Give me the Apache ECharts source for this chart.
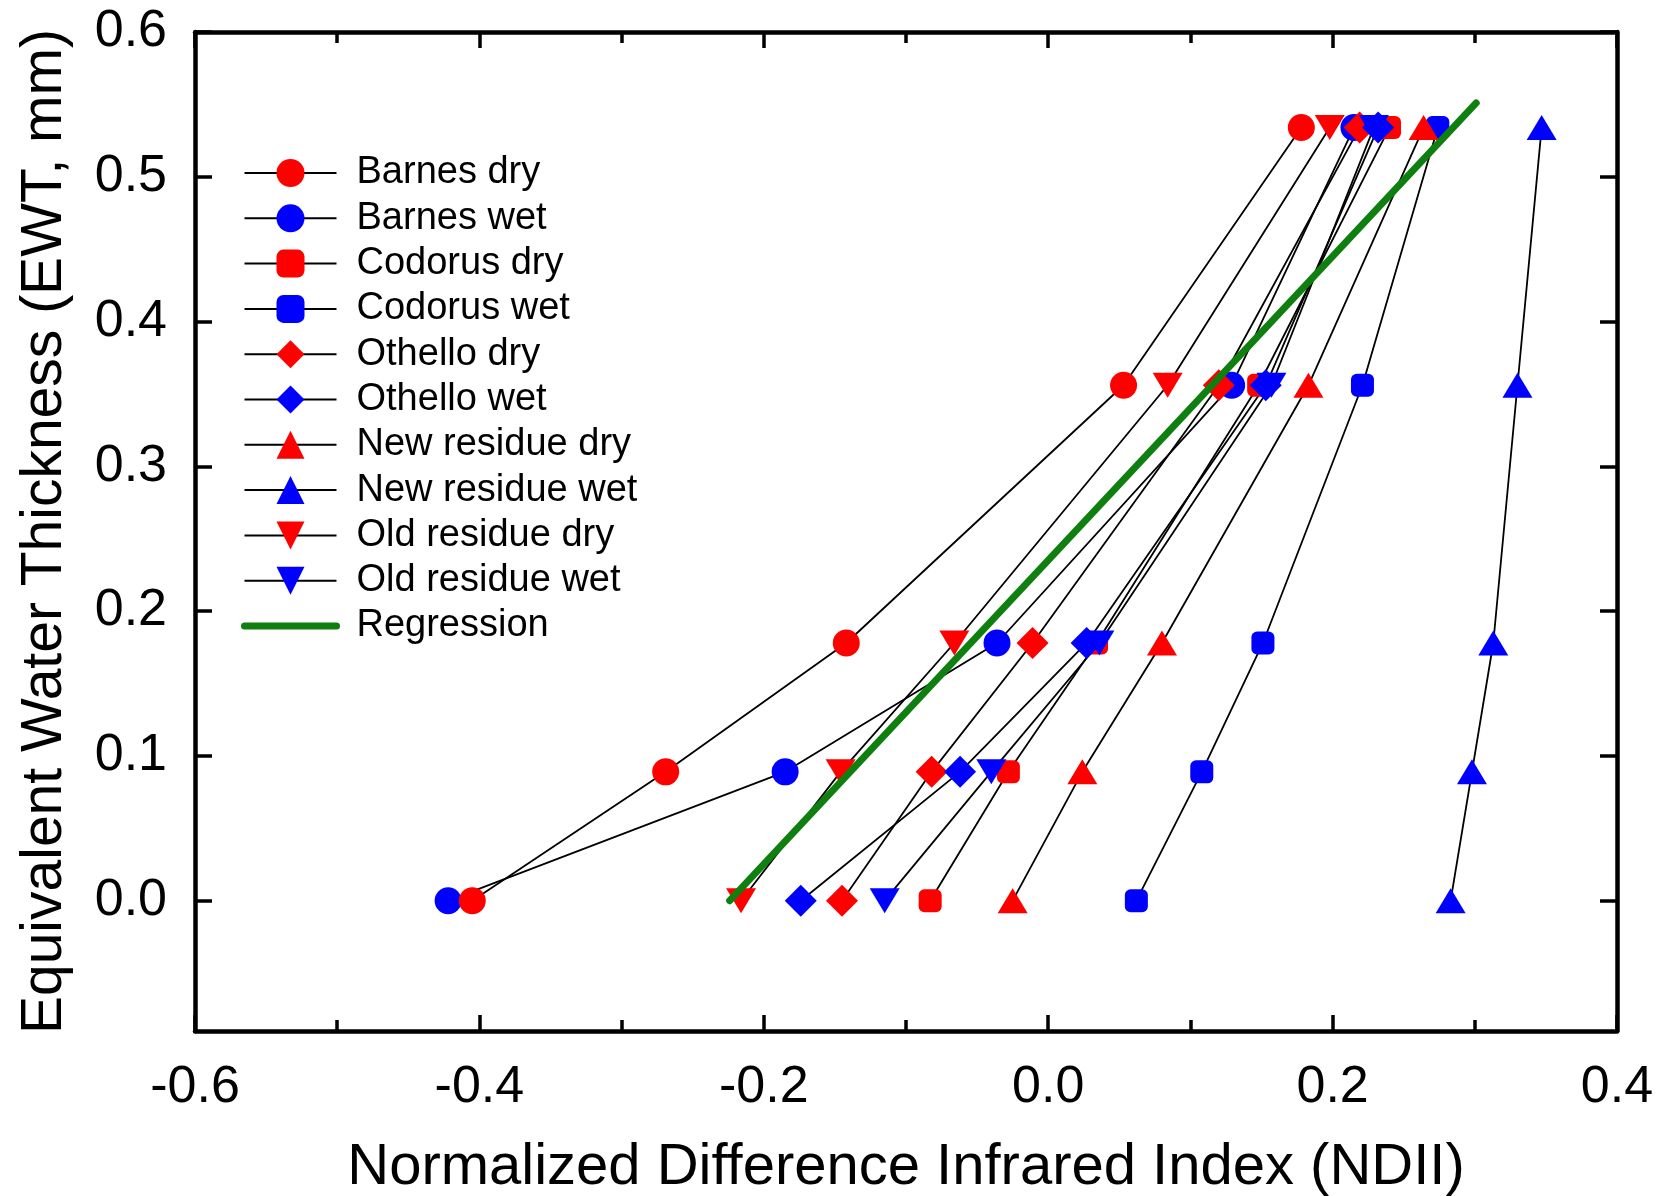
<!DOCTYPE html>
<html>
<head>
<meta charset="utf-8">
<script src="https://cdn.jsdelivr.net/npm/echarts@6/dist/echarts.min.js"></script>
<style>
html,body{margin:0;padding:0;background:#fff;}
#chart{width:1661px;height:1196px;}
</style>
</head>
<body>
<div id="chart"></div>
<script>
// EWT levels (mm) shared by all samples
const ewtLevels = [0, 0.089, 0.178, 0.356, 0.534];
// NDII values per sample, ordered by EWT level
const barnesDry      = [-0.405, -0.269, -0.142, 0.053, 0.178];
const barnesWet      = [-0.422, -0.185, -0.036, 0.129, 0.215];
const codorusDry     = [-0.083, -0.028, 0.034, 0.148, 0.240];
const codorusWet     = [0.062, 0.108, 0.151, 0.221, 0.274];
const othelloDry     = [-0.145, -0.082, -0.011, 0.120, 0.219];
const othelloWet     = [-0.174, -0.062, 0.027, 0.153, 0.232];
const newResidueDry  = [-0.025, 0.024, 0.080, 0.183, 0.264];
const newResidueWet  = [0.283, 0.298, 0.313, 0.330, 0.347];
const oldResidueDry  = [-0.216, -0.146, -0.066, 0.084, 0.198];
const oldResidueWet  = [-0.115, -0.040, 0.036, 0.157, 0.229];
// Regression line end points
const regressionX = [-0.224, 0.301];
const regressionY = [0.0, 0.551];
// Tick labels
const yTickValues = [0, 0.1, 0.2, 0.3, 0.4, 0.5, 0.6];

const FONT = "'Liberation Sans', Arial, sans-serif";
const RED = '#ff0000', BLUE = '#0000ff', GREEN = '#0f7f0f';

function mk(name, xs, color, symbol, size, rotate, z) {
  return {
    name: name, type: 'line',
    data: xs.map(function (x, i) { return [x, ewtLevels[i]]; }),
    symbol: symbol, symbolSize: size, symbolRotate: rotate || 0,
    itemStyle: { color: color, borderWidth: 0 },
    lineStyle: { color: '#000', width: 1.8 },
    z: z || 2, clip: false, animation: false,
    emphasis: { disabled: true }
  };
}

const series = [
  mk('Barnes dry', barnesDry, RED, 'circle', 27, 0, 3),
  mk('Barnes wet', barnesWet, BLUE, 'circle', 27),
  mk('Codorus dry', codorusDry, RED, 'roundRect', [23, 23]),
  mk('Codorus wet', codorusWet, BLUE, 'roundRect', [23, 23]),
  mk('Othello dry', othelloDry, RED, 'diamond', [32, 32]),
  mk('Othello wet', othelloWet, BLUE, 'diamond', [32, 32]),
  mk('New residue dry', newResidueDry, RED, 'triangle', [30, 25]),
  mk('New residue wet', newResidueWet, BLUE, 'triangle', [30, 25]),
  mk('Old residue dry', oldResidueDry, RED, 'triangle', [30, 25], 180),
  mk('Old residue wet', oldResidueWet, BLUE, 'triangle', [30, 25], 180),
  {
    name: 'Regression', type: 'line',
    data: regressionX.map(function (x, i) { return [x, regressionY[i]]; }),
    symbol: 'none',
    lineStyle: { color: GREEN, width: 7, cap: 'round' },
    itemStyle: { color: GREEN },
    z: 10, clip: false, animation: false, emphasis: { disabled: true }
  }
];

const legendNames = series.map(function (s) { return s.name; });

function fmt(v) { return Math.abs(v) < 1e-9 ? '0.0' : v.toFixed(1); }

const axisLineStyle = { color: '#000', width: 4.5 };
const tickStyle = { color: '#000', width: 3.5 };

const option = {
  backgroundColor: '#fff',
  animation: false,
  grid: { left: 195, right: 44, top: 32, bottom: 165, containLabel: false, outerBoundsMode: 'none' },
  legend: {
    orient: 'vertical', left: 236, top: 149,
    itemWidth: 92, itemHeight: 35, itemGap: 7.3,
    selectedMode: false,
    textStyle: { fontSize: 38, fontFamily: FONT, color: '#000', padding: [0, 0, 0, 15] },
    data: legendNames.map(function (n) {
      return n === 'Regression'
        ? { name: n, itemStyle: { opacity: 0 }, lineStyle: { width: 7, color: GREEN, cap: 'round' } }
        : { name: n };
    })
  },
  xAxis: [
    {
      type: 'value', position: 'bottom', min: -0.6, max: 0.4, interval: 0.2,
      axisLine: { show: true, onZero: false, lineStyle: axisLineStyle },
      axisTick: { show: true, inside: true, length: 16, lineStyle: tickStyle },
      minorTick: { show: true, splitNumber: 2, length: 11, lineStyle: tickStyle },
      splitLine: { show: false }, minorSplitLine: { show: false },
      axisLabel: { fontSize: 52, fontFamily: FONT, color: '#000', margin: 31, formatter: fmt },
      name: 'Normalized Difference Infrared Index (NDII)', nameLocation: 'middle', nameGap: 108,
      nameTextStyle: { fontSize: 58, fontFamily: FONT, color: '#000' }
    },
    {
      type: 'value', position: 'top', min: -0.6, max: 0.4, interval: 0.2,
      axisLine: { show: true, onZero: false, lineStyle: axisLineStyle },
      axisTick: { show: true, inside: true, length: 16, lineStyle: tickStyle },
      minorTick: { show: true, splitNumber: 2, length: 11, lineStyle: tickStyle },
      splitLine: { show: false }, minorSplitLine: { show: false },
      axisLabel: { show: false }
    }
  ],
  yAxis: [
    {
      type: 'value', position: 'left', min: -0.09, max: 0.6,
      axisLine: { show: true, onZero: false, lineStyle: axisLineStyle },
      axisTick: { show: true, inside: true, length: 17, lineStyle: tickStyle, customValues: yTickValues },
      splitLine: { show: false },
      axisLabel: { fontSize: 52, fontFamily: FONT, color: '#000', margin: 28, formatter: fmt, customValues: yTickValues },
      name: 'Equivalent Water Thickness (EWT, mm)', nameLocation: 'middle', nameGap: 121,
      nameTextStyle: { fontSize: 57, fontFamily: FONT, color: '#000' }
    },
    {
      type: 'value', position: 'right', min: -0.09, max: 0.6,
      axisLine: { show: true, onZero: false, lineStyle: axisLineStyle },
      axisTick: { show: true, inside: true, length: 17, lineStyle: tickStyle, customValues: yTickValues },
      splitLine: { show: false },
      axisLabel: { show: false, customValues: yTickValues }
    }
  ],
  series: series
};

const chart = echarts.init(document.getElementById('chart'), null, { renderer: 'canvas' });
chart.setOption(option);
</script>
</body>
</html>
